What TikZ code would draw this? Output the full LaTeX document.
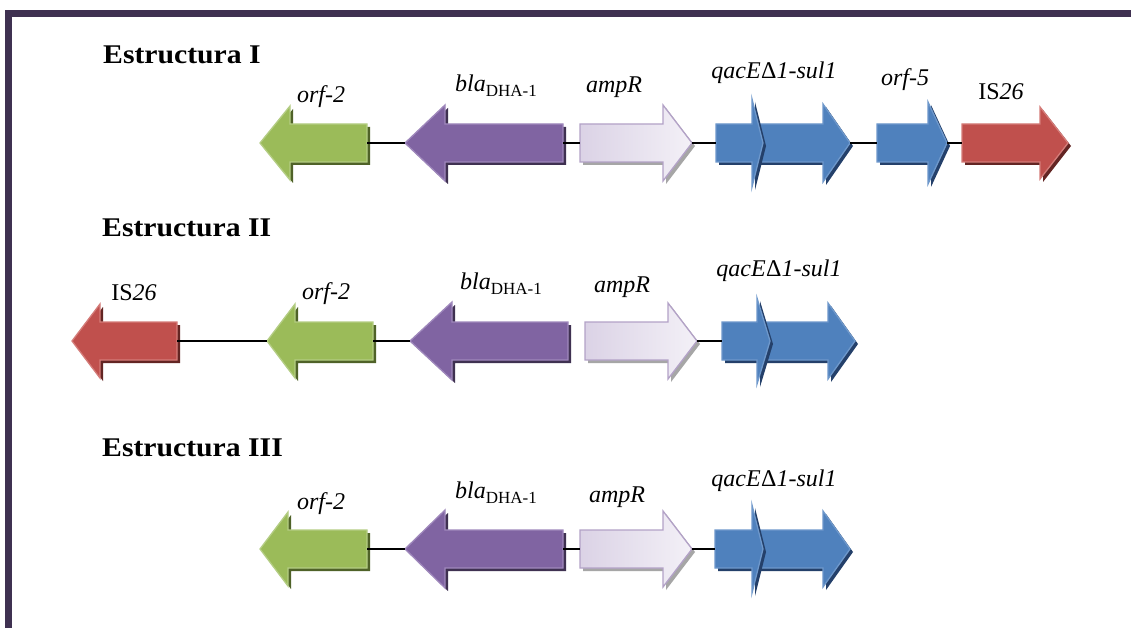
\documentclass[tikz,border=0pt]{standalone}
\usepackage{fontspec}
\setmainfont{Liberation Serif}
\newfontfamily\titlefont[FakeStretch=1.1]{Liberation Serif}
\definecolor{grF}{HTML}{9BBB59}\definecolor{grO}{HTML}{B4CD84}\definecolor{grS}{HTML}{4F6228}
\definecolor{puF}{HTML}{8064A2}\definecolor{puO}{HTML}{9F88BC}\definecolor{puS}{HTML}{3F3151}
\definecolor{laF}{HTML}{E2DBEB}\definecolor{laO}{HTML}{B3A2C7}\definecolor{laS}{HTML}{A6A6A6}
\definecolor{blF}{HTML}{4F81BD}\definecolor{blO}{HTML}{6E98CB}\definecolor{blS}{HTML}{24406A}
\definecolor{reF}{HTML}{C0504D}\definecolor{reO}{HTML}{D47C79}\definecolor{reS}{HTML}{632523}
\definecolor{frame}{HTML}{3F3151}
\tikzset{
  gr/.style={fill=grF,draw=grO}, grs/.style={fill=grS},
  pu/.style={fill=puF,draw=puO}, pus/.style={fill=puS},
  la/.style={left color=laF!85!laO,right color=laF!40!white,draw=laO}, las/.style={fill=laS},
  bl/.style={fill=blF,draw=blO}, bls/.style={fill=blS},
  re/.style={fill=reF,draw=reO}, res/.style={fill=reS},
  conn/.style={draw=black,line width=1.1pt},
  lab/.style={font=\fontsize{24}{24}\selectfont\itshape,inner sep=0pt},
  title/.style={font=\titlefont\fontsize{27}{27}\selectfont\bfseries,inner sep=0pt,anchor=west},
}
% #1 name, #2 tail x, #3 head base x, #4 tip x, #5 centre y, #6 head half-height, #7 colour style
\newcommand\gene[7]{%
  \begin{scope}[shift={(3,3)}]
    \fill[#7s] (#2,#5-19) -- (#3,#5-19) -- (#3,#5-#6) -- (#4,#5) -- (#3,#5+#6) -- (#3,#5+19) -- (#2,#5+19) -- cycle;
  \end{scope}
  \path[#7,line width=1.3pt,line join=miter] (#2,#5-19) -- (#3,#5-19) -- (#3,#5-#6) -- (#4,#5) -- (#3,#5+#6) -- (#3,#5+19) -- (#2,#5+19) -- cycle;
  \coordinate (#1-t) at (#2,#5);
  \coordinate (#1-p) at (#4,#5);
}
\newcommand\blalab{{\itshape bla}\raisebox{-0.22em}{\fontsize{17}{17}\selectfont\upshape DHA-1}}
\newcommand\qaclab{qacE\kern0.5pt{\upshape Δ}1-sul1}
\begin{document}
\begin{tikzpicture}[x=1pt,y=-1pt]
\useasboundingbox (0,0) rectangle (1131,628);
\fill[white] (0,0) rectangle (1131,628);
\draw[frame,line width=6.6pt,line join=miter] (8.3,640) -- (8.3,13.3) -- (1140,13.3);

% ---------- Estructura I ----------
\node[title] (t1) at (103,55) {Estructura I};
\gene{a1}{367}{290}{260}{143}{37}{gr}
\gene{b1}{563}{445}{405}{143}{38}{pu}
\gene{c1}{580}{663}{692}{143}{38}{la}
\gene{e1}{752}{823}{850}{143}{39}{bl}
\gene{d1}{716}{752}{763}{143}{44}{bl}
\gene{f1}{877}{928}{947}{143}{41}{bl}
\gene{g1}{962}{1040}{1068}{143}{36}{re}
\draw[conn] (a1-t) -- (b1-p);
\draw[conn] (b1-t) -- (c1-t);
\draw[conn] (c1-p) -- (d1-t);
\draw[conn] (e1-p) -- (f1-t);
\draw[conn] (f1-p) -- (g1-t);
\node[lab] (la1) at (321,97) {orf-2};
\node[lab] (lb1) at (496,86) {\blalab};
\node[lab] (lc1) at (614,87) {ampR};
\node[lab] (ld1) at (774,73) {\qaclab};
\node[lab] (lf1) at (905,80) {orf-5};
\node[lab] (lg1) at (1001,92) {\upshape IS\itshape 26};

% ---------- Estructura II ----------
\node[title] (t2) at (102,228) {Estructura II};
\gene{g2}{177}{100}{72}{341}{37}{re}
\gene{a2}{373}{295}{267}{341}{37}{gr}
\gene{b2}{568}{452}{410}{341}{39}{pu}
\gene{c2}{585}{668}{697}{341}{38}{la}
\gene{e2}{757}{828}{855}{341}{38}{bl}
\gene{d2}{722}{757}{770}{341}{43}{bl}
\draw[conn] (g2-t) -- (a2-p);
\draw[conn] (a2-t) -- (b2-p);
\draw[conn] (c2-p) -- (d2-t);
\node[lab] (lg2) at (134,293) {\upshape IS\itshape 26};
\node[lab] (la2) at (326,294) {orf-2};
\node[lab] (lb2) at (501,284) {\blalab};
\node[lab] (lc2) at (622,287) {ampR};
\node[lab] (ld2) at (779,271) {\qaclab};

% ---------- Estructura III ----------
\node[title] (t3) at (102,448) {Estructura III};
\gene{a3}{367}{288}{260}{549}{37}{gr}
\gene{b3}{563}{445}{405}{549}{39}{pu}
\gene{c3}{580}{663}{692}{549}{38}{la}
\gene{e3}{752}{823}{850}{549}{38}{bl}
\gene{d3}{715}{752}{763}{549}{44}{bl}
\draw[conn] (a3-t) -- (b3-p);
\draw[conn] (b3-t) -- (c3-t);
\draw[conn] (c3-p) -- (d3-t);
\node[lab] (la3) at (321,504) {orf-2};
\node[lab] (lb3) at (496,493) {\blalab};
\node[lab] (lc3) at (617,497) {ampR};
\node[lab] (ld3) at (774,481) {\qaclab};
\end{tikzpicture}
\end{document}
